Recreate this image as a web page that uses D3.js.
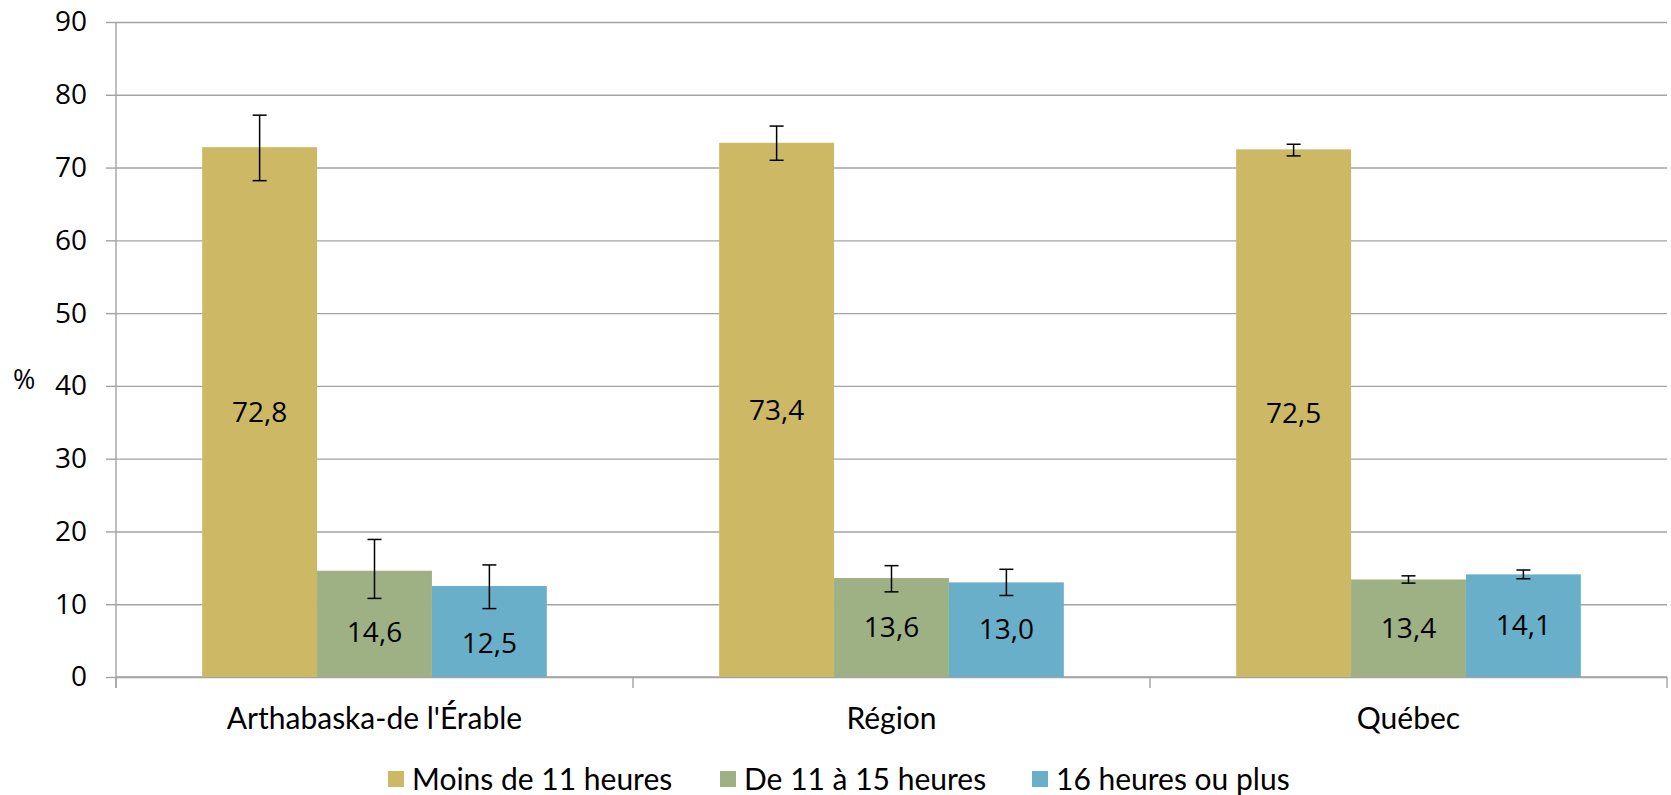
<!DOCTYPE html>
<html>
<head>
<meta charset="utf-8">
<script src="https://d3js.org/d3.v7.min.js"></script>
<style>
  body { margin: 0; background: #fff; }
  svg { display: block; }
</style>
</head>
<body>
<div id="chart"></div>
<script>
// chart values
const categories = ["Arthabaska-de l'Érable", "Région", "Québec"];
const seriesNames = ["Moins de 11 heures", "De 11 à 15 heures", "16 heures ou plus"];
const moinsDe11 = [72.8, 73.4, 72.5];
const de11a15 = [14.6, 13.6, 13.4];
const plus16 = [12.5, 13.0, 14.1];
// confidence intervals (low / high)
const moinsDe11Low = [68.2, 71.0, 71.6];
const moinsDe11High = [77.2, 75.7, 73.2];
const de11a15Low = [10.8, 11.7, 12.9];
const de11a15High = [18.9, 15.3, 13.9];
const plus16Low = [9.4, 11.2, 13.5];
const plus16High = [15.4, 14.8, 14.7];
const yTicks = [0, 10, 20, 30, 40, 50, 60, 70, 80, 90];

const colors = ['#cdb866', '#9eb184', '#6aafc9'];

const config = {
  width: 1671,
  height: 795,
  margin: { top: 22, right: 4, bottom: 118, left: 116 }
};
const width = config.width - config.margin.left - config.margin.right;
const height = config.height - config.margin.top - config.margin.bottom;

// one row per bar
const values = [moinsDe11, de11a15, plus16];
const lows = [moinsDe11Low, de11a15Low, plus16Low];
const highs = [moinsDe11High, de11a15High, plus16High];
const bars = [];
categories.forEach((c, i) => {
  seriesNames.forEach((s, j) => {
    bars.push({ cat: c, series: s, idx: j, value: values[j][i], low: lows[j][i], high: highs[j][i] });
  });
});

const svg = d3.select('#chart').append('svg')
  .attr('width', config.width)
  .attr('height', config.height);

const chart = svg.append('g')
  .attr('transform', `translate(${config.margin.left},${config.margin.top})`);

const yScale = d3.scaleLinear().domain([0, 90]).range([height, 0]);
const xScale = d3.scaleBand().domain(categories).range([0, width])
  .paddingInner(1 / 3).paddingOuter(1 / 6);
const xInner = d3.scaleBand().domain(seriesNames).range([0, xScale.bandwidth()]).padding(0);

// gridlines
const grid = chart.append('g')
  .call(d3.axisLeft(yScale).tickValues(yTicks).tickSize(-width).tickFormat(''));
grid.select('.domain').remove();
grid.selectAll('line').attr('stroke', '#a3a3a3').attr('stroke-width', 1.4);

// y axis
const yAxis = chart.append('g')
  .call(d3.axisLeft(yScale).tickValues(yTicks).tickSize(10).tickPadding(19));
yAxis.select('.domain').attr('stroke', '#a3a3a3').attr('stroke-width', 1.4)
  .attr('d', `M0,0V${height + 11}`);
yAxis.selectAll('line').attr('stroke', '#a3a3a3').attr('stroke-width', 1.4);
yAxis.selectAll('text')
  .style('font-family', '"Open Sans", sans-serif')
  .style('font-size', '28px')
  .attr('fill', '#000');

// x axis baseline and category boundary ticks
const step = xScale.step();
const bounds = categories.map(c => xScale(c) - step * xScale.paddingOuter());
bounds.push(width);
chart.append('line')
  .attr('x1', 0).attr('x2', width)
  .attr('y1', yScale(0)).attr('y2', yScale(0))
  .attr('stroke', '#a3a3a3').attr('stroke-width', 1.4);
chart.selectAll('.xtick')
  .data(bounds)
  .join('line')
  .attr('class', 'xtick')
  .attr('x1', d => d).attr('x2', d => d)
  .attr('y1', yScale(0)).attr('y2', yScale(0) + 11)
  .attr('stroke', '#a3a3a3').attr('stroke-width', 1.4);

chart.selectAll('.cat-label')
  .data(categories)
  .join('text')
  .attr('class', 'cat-label')
  .attr('x', d => xScale(d) + xScale.bandwidth() / 2)
  .attr('y', height + 41)
  .attr('dy', '0.35em')
  .attr('text-anchor', 'middle')
  .style('font-family', 'Lato, sans-serif')
  .style('font-size', '30px')
  .text(d => d);

// y title
chart.append('text')
  .attr('x', -103)
  .attr('y', yScale(40) - 6)
  .attr('dy', '0.35em')
  .style('font-family', '"Open Sans", sans-serif')
  .style('font-size', '27px')
  .text('%');

// bars
chart.selectAll('.bar')
  .data(bars)
  .join('rect')
  .attr('class', 'bar')
  .attr('x', d => xScale(d.cat) + xInner(d.series))
  .attr('width', xInner.bandwidth())
  .attr('y', d => yScale(d.value))
  .attr('height', d => yScale(0) - yScale(d.value))
  .attr('fill', d => colors[d.idx]);

// error bars
const capHalf = 7;
const err = chart.selectAll('.err')
  .data(bars)
  .join('g')
  .attr('class', 'err')
  .attr('transform', d => `translate(${xScale(d.cat) + xInner(d.series) + xInner.bandwidth() / 2},0)`);
err.append('line')
  .attr('y1', d => yScale(d.low)).attr('y2', d => yScale(d.high))
  .attr('stroke', '#000').attr('stroke-width', 1.5);
err.append('line')
  .attr('x1', -capHalf).attr('x2', capHalf)
  .attr('y1', d => yScale(d.low)).attr('y2', d => yScale(d.low))
  .attr('stroke', '#000').attr('stroke-width', 1.5);
err.append('line')
  .attr('x1', -capHalf).attr('x2', capHalf)
  .attr('y1', d => yScale(d.high)).attr('y2', d => yScale(d.high))
  .attr('stroke', '#000').attr('stroke-width', 1.5);

// value labels: centred in the bar, kept under the lower end of the error bar
chart.selectAll('.val')
  .data(bars)
  .join('text')
  .attr('class', 'val')
  .attr('x', d => xScale(d.cat) + xInner(d.series) + xInner.bandwidth() / 2)
  .attr('y', d => yScale(Math.min(d.value / 2, d.low - 4.7)))
  .attr('dy', '0.35em')
  .attr('text-anchor', 'middle')
  .style('font-family', '"Open Sans", sans-serif')
  .style('font-size', '28px')
  .text(d => d3.format('.1f')(d.value).replace('.', ','));

// legend
const legendX = [388, 720, 1032];
const legend = svg.append('g')
  .selectAll('g')
  .data(seriesNames)
  .join('g')
  .attr('transform', (d, i) => `translate(${legendX[i]},779)`);
legend.append('rect')
  .attr('x', 0).attr('y', -8)
  .attr('width', 16).attr('height', 16)
  .attr('fill', (d, i) => colors[i]);
legend.append('text')
  .attr('x', 24)
  .attr('dy', '0.35em')
  .style('font-family', 'Lato, sans-serif')
  .style('font-size', '30px')
  .text(d => d);
</script>
</body>
</html>
